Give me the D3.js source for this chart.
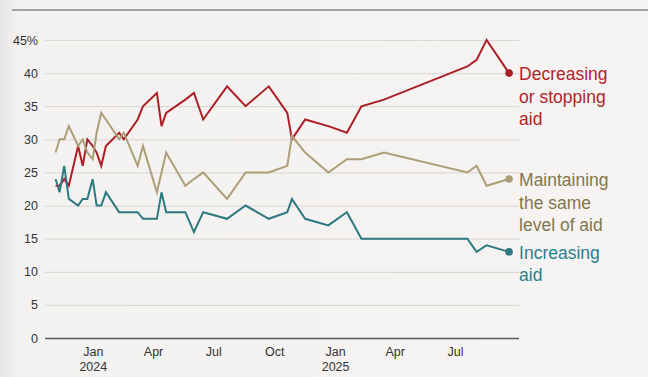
<!DOCTYPE html>
<html>
<head>
<meta charset="utf-8">
<script src="https://cdn.jsdelivr.net/npm/d3@7"></script>
<style>
  html, body { margin: 0; padding: 0; background: #f5f3f1; }
  svg { display: block; }
  text { font-family: "Liberation Sans", Arial, sans-serif; }
</style>
</head>
<body>
<svg id="chart" width="648" height="377"></svg>
<script>
// ---- data ----
const dates = [
  "2023-11-05","2023-11-11","2023-11-18","2023-11-25","2023-12-09","2023-12-16","2023-12-23","2023-12-31",
  "2024-01-06","2024-01-13","2024-01-20","2024-02-09","2024-02-16","2024-03-08","2024-03-16","2024-04-06",
  "2024-04-13","2024-04-20","2024-05-19","2024-06-01","2024-06-15","2024-07-21","2024-08-18","2024-09-22",
  "2024-10-20","2024-10-27","2024-11-16","2024-12-21","2025-01-18","2025-02-09","2025-03-15","2025-07-19",
  "2025-08-02","2025-08-17","2025-09-20"
];
const decreasing = [23,23,24,23,29,26,30,29,28,26,29,31,30,33,35,37,32,34,36,37,33,38,35,38,34,30,33,32,31,35,36,41,42,45,40];
const maintaining = [28,30,30,32,29,30,28,27,31,34,33,30,31,26,29,22,25,28,23,24,25,21,25,25,26,30.5,28,25,27,27,28,25,26,23,24];
const increasing = [24,22,26,21,20,21,21,24,20,20,22,19,19,19,18,18,22,19,19,16,19,18,20,18,19,21,18,17,19,15,15,15,13,14,13];

const seriesNames = ["Decreasing or stopping aid", "Maintaining the same level of aid", "Increasing aid"];
const seriesLabelLines = [["Decreasing","or stopping","aid"],["Maintaining","the same","level of aid"],["Increasing","aid"]];
const yTicks = [0,5,10,15,20,25,30,35,40,45];
const xTickDates = ["2024-01-01","2024-04-01","2024-07-01","2024-10-01","2025-01-01","2025-04-01","2025-07-01"];
const xTickLabels = [["Jan","2024"],["Apr"],["Jul"],["Oct"],["Jan","2025"],["Apr"],["Jul"]];

// ---- styles ----
const lineColors = ["#ad1f27", "#ad9e78", "#2e7881"];
const labelColors = ["#b1232b", "#84764b", "#2a808d"];

const parse = d3.timeParse("%Y-%m-%d");
const svg = d3.select("#chart");

// background with slight vignette on the left
const defs = svg.append("defs");
const grad = defs.append("linearGradient").attr("id","bg").attr("x1","0").attr("x2","1");
grad.append("stop").attr("offset","0").attr("stop-color","#e9e7e5");
grad.append("stop").attr("offset","0.03").attr("stop-color","#f4f2f0");
grad.append("stop").attr("offset","1").attr("stop-color","#f6f4f2");
svg.append("rect").attr("width",648).attr("height",377).attr("fill","url(#bg)");

// top rule
svg.append("line").attr("x1",12).attr("x2",648).attr("y1",10).attr("y2",10)
  .attr("stroke","#a3a3a3").attr("stroke-width",2);

const x = d3.scaleTime().domain([parse("2023-10-20"), parse("2025-10-05")]).range([45, 519]);
const y = d3.scaleLinear().domain([0, 45]).range([338, 40]);

// grid
const yAxis = d3.axisLeft(y).tickValues(yTicks).tickSize(-(519-45)).tickPadding(8)
  .tickFormat(d => d === 45 ? "45%" : d);
const gy = svg.append("g").attr("transform","translate(45,0)").call(yAxis);
gy.select(".domain").remove();
gy.selectAll(".tick line").attr("stroke","#dddad6").attr("stroke-width",1.2);
gy.selectAll(".tick text").attr("font-size",12.5).attr("fill","#333").attr("x",-7)
  .style("font-family","'Liberation Sans', Arial, sans-serif");
gy.selectAll(".tick").filter(d => d === 0).select("line").attr("stroke","#5a5a5a").attr("stroke-width",1.6);

// x axis labels
const gx = svg.append("g");
xTickDates.forEach((d, i) => {
  const t = gx.append("text").attr("x", x(parse(d))).attr("y", 356)
    .attr("text-anchor","middle").attr("font-size",12.5).attr("fill","#333");
  xTickLabels[i].forEach((s, j) => {
    t.append("tspan").attr("x", x(parse(d))).attr("dy", j === 0 ? 0 : 14.5).text(s);
  });
});

// lines
const allSeries = [decreasing, maintaining, increasing];
const line = d3.line().x((d, i) => x(parse(dates[i]))).y(d => y(d));
allSeries.forEach((vals, k) => {
  svg.append("path").datum(vals).attr("d", line).attr("fill","none")
    .attr("stroke", lineColors[k]).attr("stroke-width", 2).attr("stroke-linejoin","miter");
  const last = vals.length - 1;
  const cx = x(parse(dates[last])), cy = y(vals[last]);
  svg.append("circle").attr("cx", cx).attr("cy", cy).attr("r", 3.8).attr("fill", lineColors[k]);
  const t = svg.append("text").attr("x", cx + 10).attr("y", cy + 7)
    .attr("font-size", 17.5).attr("fill", labelColors[k]).attr("aria-label", seriesNames[k]);
  seriesLabelLines[k].forEach((s, j) => {
    t.append("tspan").attr("x", cx + 10).attr("dy", j === 0 ? 0 : 22.5).text(s);
  });
});
</script>
</body>
</html>
